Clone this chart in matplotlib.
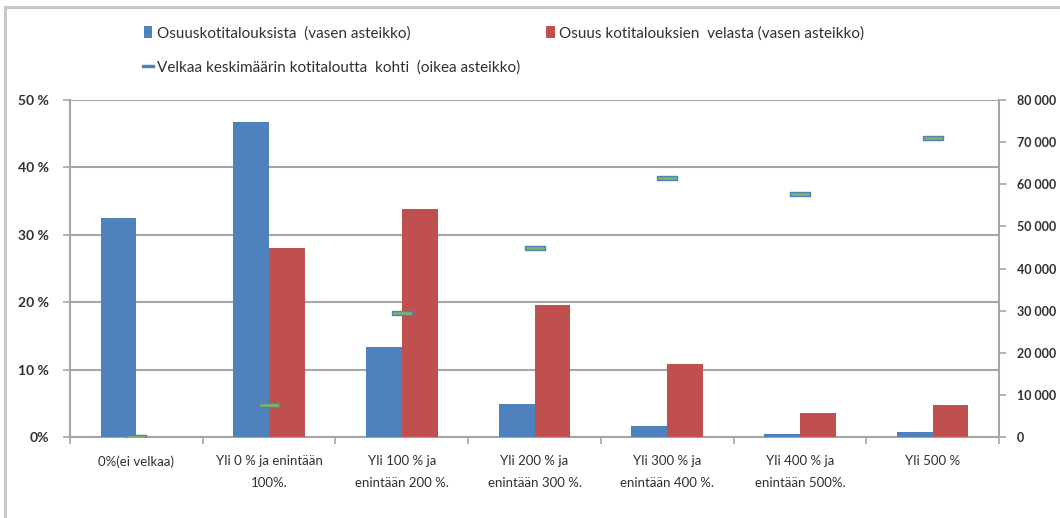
import matplotlib
matplotlib.use("Agg")
import matplotlib.pyplot as plt
import numpy as np
from matplotlib.path import Path
from matplotlib.patches import Rectangle, Patch
from matplotlib.lines import Line2D

plt.rcParams['font.family'] = ['Lato', 'DejaVu Sans']

categories = [
    "0%(ei velkaa)",
    "Yli 0 % ja enintään\n100%.",
    "Yli 100 % ja\nenintään 200 %.",
    "Yli 200 % ja\nenintään 300 %.",
    "Yli 300 % ja\nenintään 400 %.",
    "Yli 400 % ja\nenintään 500%.",
    "Yli 500 %",
]
share_households = [32.5, 46.8, 13.4, 4.9, 1.7, 0.5, 0.8]
share_debt = [0.0, 28.0, 33.8, 19.6, 10.9, 3.6, 4.7]
avg_debt = [0, 7600, 29500, 44900, 61400, 57800, 71000]

left_ticks = [0, 10, 20, 30, 40, 50]
left_labels = ["0%", "10 %", "20 %", "30 %", "40 %", "50 %"]
right_ticks = [0, 10000, 20000, 30000, 40000, 50000, 60000, 70000, 80000]
right_labels = ["0", "10 000", "20 000", "30 000", "40 000", "50 000",
                "60 000", "70 000", "80 000"]

legend_labels = [
    "Osuuskotitalouksista  (vasen asteikko)",
    "Osuus kotitalouksien  velasta (vasen asteikko)",
    "Velkaa keskimäärin kotitaloutta  kohti  (oikea asteikko)",
]

blue = "#4f81bd"
red = "#c0504d"
green = "#7fb55c"
grid_c = "#a6a6a6"
text_c = "#303030"

fig = plt.figure(figsize=(10.6, 5.18), dpi=100)
fig.patches.append(Rectangle((5 / 1060, -0.1), 1.2, 1.1 - 7 / 518,
                             transform=fig.transFigure, fill=False,
                             edgecolor="#c8c8c8", linewidth=2.2, zorder=0))

ax = fig.add_axes([70 / 1060, 1 - 437 / 518, (999 - 70) / 1060, (437 - 100) / 518])
x = np.arange(len(categories))
w = 0.27
ax.bar(x - w / 2, share_households, width=w, color=blue, zorder=3)
ax.bar(x + w / 2, share_debt, width=w, color=red, zorder=3)

ax.set_xlim(-0.5, len(categories) - 0.5)
ax.set_ylim(0, 50)
ax.set_yticks(left_ticks)
ax.set_yticklabels(left_labels)
ax.set_xticks(x)
ax.set_xticklabels(categories, linespacing=2.0)
ax.set_xticks(np.arange(-0.5, len(categories), 1), minor=True)
ax.tick_params(axis='x', which='major', length=0, pad=13, labelsize=9.5, colors=text_c)
ax.tick_params(axis='x', which='minor', length=5, color=grid_c, width=1.2, direction='out')
ax.tick_params(axis='y', length=5, color=grid_c, width=1.2, labelsize=10, colors=text_c, pad=10)
for lab in ax.get_yticklabels():
    lab.set_fontweight('bold')
ax.grid(axis='y', color=grid_c, linewidth=1.5, zorder=0)
ax.set_axisbelow(True)
for s in ['top', 'right']:
    ax.spines[s].set_visible(False)
for s in ['left', 'bottom']:
    ax.spines[s].set_color(grid_c)
    ax.spines[s].set_linewidth(1.5)

dash = Path([(-1, -0.24), (1, -0.24), (1, 0.24), (-1, 0.24), (-1, -0.24)],
            [Path.MOVETO, Path.LINETO, Path.LINETO, Path.LINETO, Path.CLOSEPOLY])

ax2 = ax.twinx()
ax2.plot(x, avg_debt, linestyle='none', marker=dash, markersize=15,
         markerfacecolor=green, markeredgecolor=blue, markeredgewidth=1.0, zorder=5)
ax2.set_ylim(0, 80000)
ax2.set_yticks(right_ticks)
ax2.set_yticklabels(right_labels)
ax2.tick_params(axis='y', length=5, color=grid_c, width=1.2, labelsize=9, colors=text_c, pad=8)
for lab in ax2.get_yticklabels():
    lab.set_fontweight('bold')
for s in ['top', 'left', 'bottom']:
    ax2.spines[s].set_visible(False)
ax2.spines['right'].set_color(grid_c)
ax2.spines['right'].set_linewidth(1.5)

handles = [
    Patch(facecolor=blue, edgecolor='none'),
    Line2D([], [], linestyle='none', marker=dash, markersize=8,
           markerfacecolor=blue, markeredgecolor=blue),
    Patch(facecolor=red, edgecolor='none'),
]
labels = [legend_labels[0], legend_labels[2], legend_labels[1]]
fig.legend(handles, labels, ncol=2, loc='upper left',
           bbox_to_anchor=(144 / 1060, 1 - 26 / 518), frameon=False,
           fontsize=11, handlelength=0.55, handleheight=0.8, handletextpad=0.3,
           columnspacing=1.7, labelspacing=1.3, labelcolor=text_c,
           borderaxespad=0, borderpad=0)

fig.savefig("out.png", dpi=100)
